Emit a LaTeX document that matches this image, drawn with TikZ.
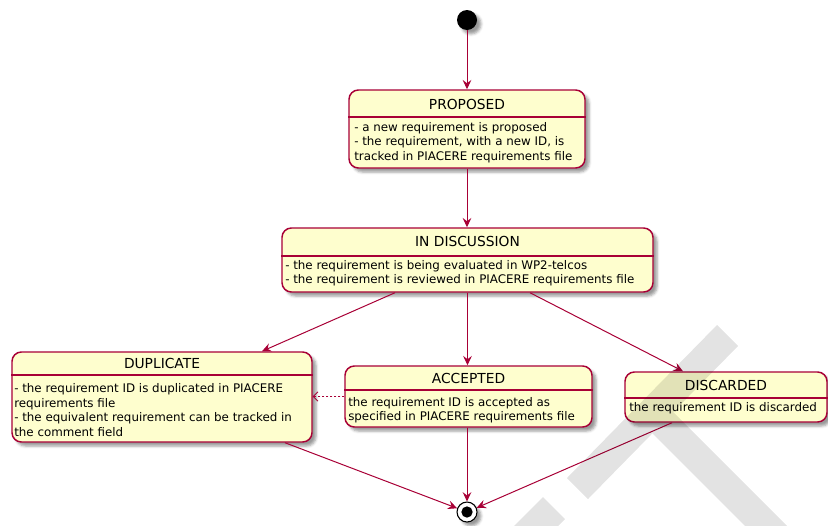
\documentclass[tikz,border=0pt]{standalone}
\usepackage{fontspec}
\setmainfont{DejaVu Sans}
\usetikzlibrary{arrows.meta,calc,fit,shadows.blur}
\definecolor{umlred}{HTML}{A80036}
\definecolor{umlfill}{HTML}{FEFECE}
\tikzset{
  softshadow/.style={blur shadow={shadow xshift=3pt, shadow yshift=-3pt,
      shadow blur radius=2pt, shadow opacity=40}},
  statebox/.style={draw=umlred, line width=1.1pt, fill=umlfill,
      rounded corners=7pt, inner sep=0pt, softshadow},
  sepline/.style={draw=umlred, line width=0.8pt},
  statename/.style={font=\fontsize{10.35pt}{12pt}\selectfont, inner sep=0pt},
  statetext/.style={font=\fontsize{8.9pt}{10.8pt}\selectfont, align=left,
      inner sep=0pt, anchor=west},
  flow/.style={draw=umlred, line width=0.75pt,
      -{Stealth[length=7pt,width=6.5pt,inset=2.5pt]}},
  hint/.style={draw=umlred, line width=0.6pt, dash pattern=on 1.5pt off 1.5pt,
      -{Straight Barb[length=3.5pt,width=7pt]}},
  watermark/.style={fill=black, fill opacity=0.11},
}
\begin{document}
\begin{tikzpicture}[x=0.75pt,y=-0.75pt]
\useasboundingbox (0,0) rectangle (828,525);

% initial pseudo-state
\node[circle, fill=black, minimum size=15pt, inner sep=0pt, softshadow] (start) at (467,20) {};

% PROPOSED
\node[statebox, fit={(349,90) (585,168)}] (prop) {};
\draw[sepline] (prop.west |- 0,117) -- (prop.east |- 0,117);
\node[statename] (propname) at (prop.center |- 0,104) {PROPOSED};
\node[statetext] (proptext) at (354,142.5) {- a new requirement is proposed\\- the requirement, with a new ID, is\\tracked in PIACERE requirements file};

% IN DISCUSSION
\node[statebox, fit={(282,228) (653,292)}] (disc) {};
\draw[sepline] (disc.west |- 0,256) -- (disc.east |- 0,256);
\node[statename] (discname) at (disc.center |- 0,241) {IN DISCUSSION};
\node[statetext] (disctext) at (285,273) {- the requirement is being evaluated in WP2-telcos\\- the requirement is reviewed in PIACERE requirements file};

% DUPLICATE
\node[statebox, fit={(12,352) (312,442)}] (dup) {};
\draw[sepline] (dup.west |- 0,375) -- (dup.east |- 0,375);
\node[statename] (dupname) at (dup.center |- 0,363) {DUPLICATE};
\node[statetext] (duptext) at (14,410) {- the requirement ID is duplicated in PIACERE\\requirements file\\- the equivalent requirement can be tracked in\\the comment field};

% ACCEPTED
\node[statebox, fit={(345,366) (592,427)}] (acc) {};
\draw[sepline] (acc.west |- 0,390) -- (acc.east |- 0,390);
\node[statename] (accname) at (acc.center |- 0,378) {ACCEPTED};
\node[statetext] (acctext) at (348,410) {the requirement ID is accepted as\\specified in PIACERE requirements file};

% DISCARDED
\node[statebox, fit={(625,372) (827,422)}] (drop) {};
\draw[sepline] (drop.west |- 0,398) -- (drop.east |- 0,398);
\node[statename] (dropname) at (drop.center |- 0,385) {DISCARDED};
\node[statetext] (droptext) at (629,408.5) {the requirement ID is discarded};

% final pseudo-state
\node[circle, draw=black, line width=0.8pt, fill=white, minimum size=15pt, inner sep=0pt, softshadow] (stop) at (467,512) {};
\node[circle, fill=black, minimum size=8.5pt, inner sep=0pt] (stopdot) at (stop.center) {};

% transitions
\draw[flow] (start) -- (prop);
\draw[flow] (prop.south) -- (prop.south |- disc.north);
\draw[flow] ($(disc.south)+(-72.5,0)$) -- ($(dup.north)+(100,0)$);
\draw[flow] (disc.south) -- (disc.south |- acc.north);
\draw[flow] ($(disc.south)+(62.5,0)$) -- ($(drop.north)+(-43,0)$);
\draw[hint] (acc.west) -- (acc.west -| dup.east);
\draw[flow] ($(dup.south)+(123,0)$) -- (stop);
\draw[flow] (acc.south -| stop) -- (stop);
\draw[flow] ($(drop.south)+(-54,0)$) -- (stop);

% draft watermark strokes
\fill[watermark]
  (717,325) -- (738,346) -- (588,499) -- (567,478) -- cycle
  (662.5,401.5) -- (812.5,551.5) -- (791.5,572.5) -- (641.5,422.5) -- cycle
  (543,497) -- (565,519) -- (515,569) -- (493,547) -- cycle;
\end{tikzpicture}
\end{document}
